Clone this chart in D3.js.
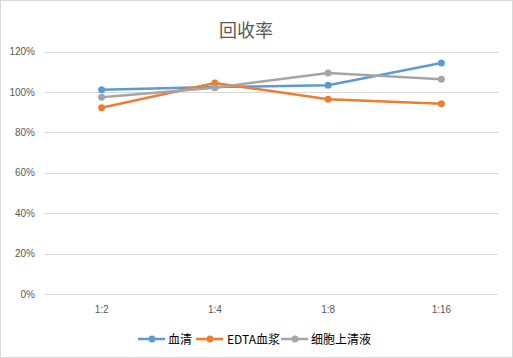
<!DOCTYPE html>
<html>
<head>
<meta charset="utf-8">
<script src="https://cdn.jsdelivr.net/npm/d3@7"></script>
<style>
  body { margin: 0; background: #fff; }
  svg { display: block; font-family: "Noto Sans CJK SC", "Liberation Sans", sans-serif; }
</style>
</head>
<body>
<svg id="chart" width="513" height="358"></svg>
<script>
var categories = ['1:2', '1:4', '1:8', '1:16']
var seriesNames = ['血清', 'EDTA血浆', '细胞上清液']
var serum = [1.011, 1.024, 1.033, 1.143]
var edta = [0.922, 1.044, 0.964, 0.942]
var supernatant = [0.974, 1.021, 1.094, 1.063]
var yTicks = [0, 0.2, 0.4, 0.6, 0.8, 1.0, 1.2]
var colors = ['#5B9BD5', '#ED7D31', '#A5A5A5']

var svg = d3.select('#chart')
var width = 513
var height = 358
var margin = { top: 51.5, right: 15, bottom: 64, left: 45 }

// outer border
svg.append('rect')
  .attr('x', 0.5).attr('y', 0.5)
  .attr('width', width - 1).attr('height', height - 1)
  .attr('fill', '#fff').attr('stroke', '#d9d9d9')

svg.append('text')
  .attr('x', 246).attr('y', 37)
  .attr('text-anchor', 'middle')
  .attr('font-size', 18)
  .attr('fill', '#595959')
  .text('回收率')

var x = d3.scaleBand()
  .domain(categories)
  .range([margin.left, width - margin.right])

var y = d3.scaleLinear()
  .domain([0, 1.2])
  .range([height - margin.bottom, margin.top])

// gridlines
svg.append('g')
  .selectAll('line')
  .data(yTicks)
  .enter().append('line')
  .attr('x1', margin.left).attr('x2', width - margin.right)
  .attr('y1', function (d) { return Math.round(y(d)) + 0.5 })
  .attr('y2', function (d) { return Math.round(y(d)) + 0.5 })
  .attr('stroke', '#d9d9d9')

var yAxis = svg.append('g')
  .attr('transform', 'translate(' + (margin.left - 7) + ',0)')
  .call(d3.axisLeft(y).tickValues(yTicks).tickSize(0).tickFormat(d3.format('.0%')))
yAxis.select('.domain').remove()
yAxis.selectAll('text')
  .attr('font-size', 10).attr('fill', '#595959')
  .attr('font-family', 'Liberation Sans, sans-serif')

var xAxis = svg.append('g')
  .attr('transform', 'translate(0,' + (height - margin.bottom + 9) + ')')
  .call(d3.axisBottom(x).tickSize(0))
xAxis.select('.domain').remove()
xAxis.selectAll('text')
  .attr('font-size', 10).attr('fill', '#595959')
  .attr('font-family', 'Liberation Sans, sans-serif')

var data = [serum, edta, supernatant]
var line = d3.line()
  .x(function (d, i) { return x(categories[i]) + x.bandwidth() / 2 })
  .y(function (d) { return y(d) })

data.forEach(function (vals, k) {
  svg.append('path')
    .datum(vals)
    .attr('d', line)
    .attr('fill', 'none')
    .attr('stroke', colors[k])
    .attr('stroke-width', 2.5)
    .attr('stroke-linejoin', 'round')
    .attr('stroke-linecap', 'round')
  svg.selectAll('.pt' + k)
    .data(vals)
    .enter().append('circle')
    .attr('class', 'pt' + k)
    .attr('cx', function (d, i) { return x(categories[i]) + x.bandwidth() / 2 })
    .attr('cy', function (d) { return y(d) })
    .attr('r', 3.5)
    .attr('fill', colors[k])
})

// legend
var legendX = [138, 196, 281]
var legend = svg.append('g').attr('transform', 'translate(0,339)')
seriesNames.forEach(function (name, k) {
  var g = legend.append('g').attr('transform', 'translate(' + legendX[k] + ',0)')
  g.append('line')
    .attr('x1', 0).attr('x2', 27)
    .attr('stroke', colors[k]).attr('stroke-width', 2.5)
  g.append('circle').attr('cx', 14).attr('r', 3.5).attr('fill', colors[k])
  g.append('text')
    .attr('x', k === 1 ? 31 : 30).attr('y', 4.5)
    .attr('font-size', 12).attr('fill', '#000')
    .text(name)
})
</script>
</body>
</html>
